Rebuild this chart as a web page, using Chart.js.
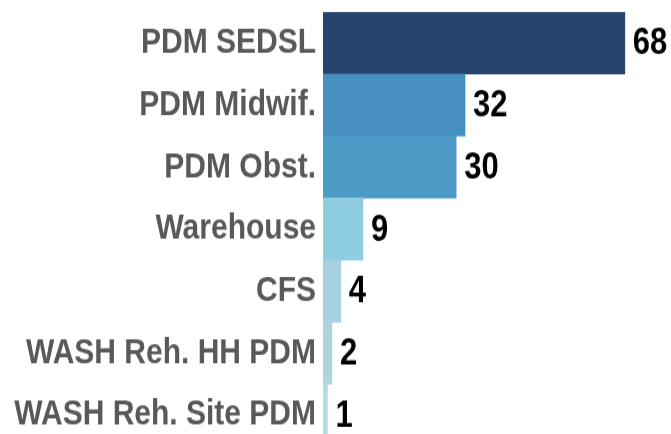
<!DOCTYPE html>
<html>
<head>
<meta charset="utf-8">
<script src="https://cdn.jsdelivr.net/npm/chart.js@4.4.1/dist/chart.umd.min.js"></script>
<style>
    html, body { margin: 0; padding: 0; background: #fff; overflow: hidden; }
    #barChart { display: block; }
</style>
</head>
<body>
<!-- drawing buffer is 372 tall, shown 446 tall: the reference text is stretched vertically -->
<canvas id="barChart" width="671" height="372" style="width:671px;height:446px"></canvas>
<script>
const categories = ['PDM SEDSL', 'PDM Midwif.', 'PDM Obst.', 'Warehouse', 'CFS', 'WASH Reh. HH PDM', 'WASH Reh. Site PDM'];
const counts = [68, 32, 30, 9, 4, 2, 1];
const barColors = ['#26456e', '#4690c0', '#4c9ac6', '#8fcde0', '#a5d2de', '#aed4de', '#b8dbe2'];

// value labels at the end of each bar
const valueLabels = {
    id: 'valueLabels',
    afterDatasetsDraw(chart) {
        const ctx = chart.ctx;
        const meta = chart.getDatasetMeta(0);
        ctx.save();
        ctx.font = 'bold 31px "Liberation Sans", Arial, sans-serif';
        ctx.fillStyle = '#000';
        ctx.textAlign = 'left';
        ctx.textBaseline = 'middle';
        meta.data.forEach((bar, i) => {
            ctx.fillText(counts[i], bar.x + 8, bar.y + 1);
        });
        ctx.restore();
    }
};

const ctx = document.getElementById('barChart').getContext('2d');
new Chart(ctx, {
    type: 'bar',
    data: {
        labels: categories,
        datasets: [{
            data: counts,
            backgroundColor: barColors,
            borderWidth: 0,
            categoryPercentage: 1,
            barPercentage: 1
        }]
    },
    options: {
        indexAxis: 'y',
        responsive: false,
        devicePixelRatio: 1,
        animation: false,
        layout: { padding: { top: 10, bottom: 0, left: 0, right: 0 } },
        scales: {
            x: {
                display: false,
                min: 0,
                max: 78.4
            },
            y: {
                grid: { display: false, drawTicks: false },
                border: { display: false },
                ticks: {
                    color: '#595959',
                    padding: 7,
                    font: { family: '"Liberation Sans", Arial, sans-serif', size: 30, weight: 'bold' }
                },
                afterFit(axis) {
                    axis.width = 323;
                    axis.paddingTop = 0;
                    axis.paddingBottom = 0;
                }
            }
        },
        plugins: {
            legend: { display: false },
            tooltip: { enabled: false }
        }
    },
    plugins: [valueLabels]
});
</script>
</body>
</html>
